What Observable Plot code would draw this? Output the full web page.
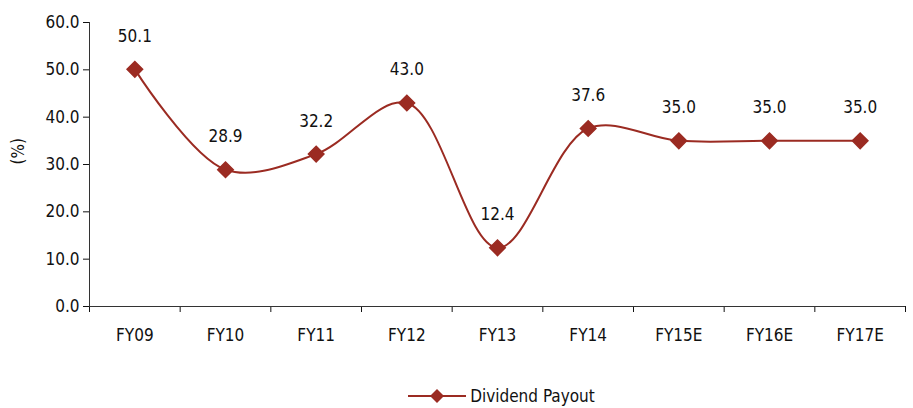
<!DOCTYPE html>
<html><head><meta charset="utf-8">
<script src="https://cdn.jsdelivr.net/npm/d3@7"></script>
<script src="https://cdn.jsdelivr.net/npm/@observablehq/plot@0.6"></script>
<style>
body{margin:0;background:#fff;font-family:"Liberation Sans Narrow","DejaVu Sans Condensed","Roboto",sans-serif;}
#legend{display:flex;justify-content:center;align-items:center;height:24px;font-size:17px;color:#111;margin-left:90px}
</style></head><body>
<div id="chart"></div>
<div id="legend"><svg width="58" height="16"><line x1="0" y1="8" x2="58" y2="8" stroke="#9B2B22" stroke-width="2"/><path d="M29,1 L36,8 L29,15 L22,8Z" fill="#9B2B22"/></svg><span style="margin-left:4px">Dividend Payout</span></div>
<script>
const categories = ["FY09","FY10","FY11","FY12","FY13","FY14","FY15E","FY16E","FY17E"];
const payout = [50.1, 28.9, 32.2, 43.0, 12.4, 37.6, 35.0, 35.0, 35.0];
const yTicks = [0,10,20,30,40,50,60];
const color = "#9B2B22";
const data = categories.map((c,i)=>({c, i, x:i+0.5, v:payout[i]}));
const font = '"Liberation Sans Narrow","DejaVu Sans Condensed","Roboto",sans-serif';
const chart = Plot.plot({
  width: 913, height: 384,
  marginLeft: 89, marginRight: 8, marginTop: 22, marginBottom: 78,
  style: {fontFamily: font, fontSize: "17px", color: "#111", background: "#fff"},
  x: {type: "linear", domain: [0, categories.length]},
  y: {domain: [0, 60]},
  marks: [
    Plot.axisY({ticks: yTicks, tickFormat: d => d.toFixed(1), tickSize: 6, tickPadding: 4, label: null, fontSize: 17}),
    Plot.ruleX([0], {stroke: "#333"}),
    Plot.axisX({ticks: d3.range(categories.length+1), tickFormat: () => "", tickSize: 6, label: null}),
    Plot.axisX({ticks: data.map(d=>d.x), tickFormat: d => categories[Math.round(d-0.5)], tickSize: 0, tickPadding: 22, label: null, fontSize: 17}),
    Plot.ruleY([0], {stroke: "#333"}),
    Plot.line(data, {x: "x", y: "v", stroke: color, strokeWidth: 2, curve: "catmull-rom"}),
    Plot.dot(data, {x: "x", y: "v", symbol: "diamond2", r: 7, fill: color, stroke: color, strokeWidth: 1.5}),
    Plot.text(data, {x: "x", y: "v", text: d => d.v.toFixed(1), dy: -33, fontSize: 17, fill: "#111"}),
    Plot.text(["(%)"], {frameAnchor: "left", dx: -71, rotate: -90, fontSize: 17, fill: "#111"})
  ]
});
document.getElementById("chart").append(chart);
</script></body></html>
